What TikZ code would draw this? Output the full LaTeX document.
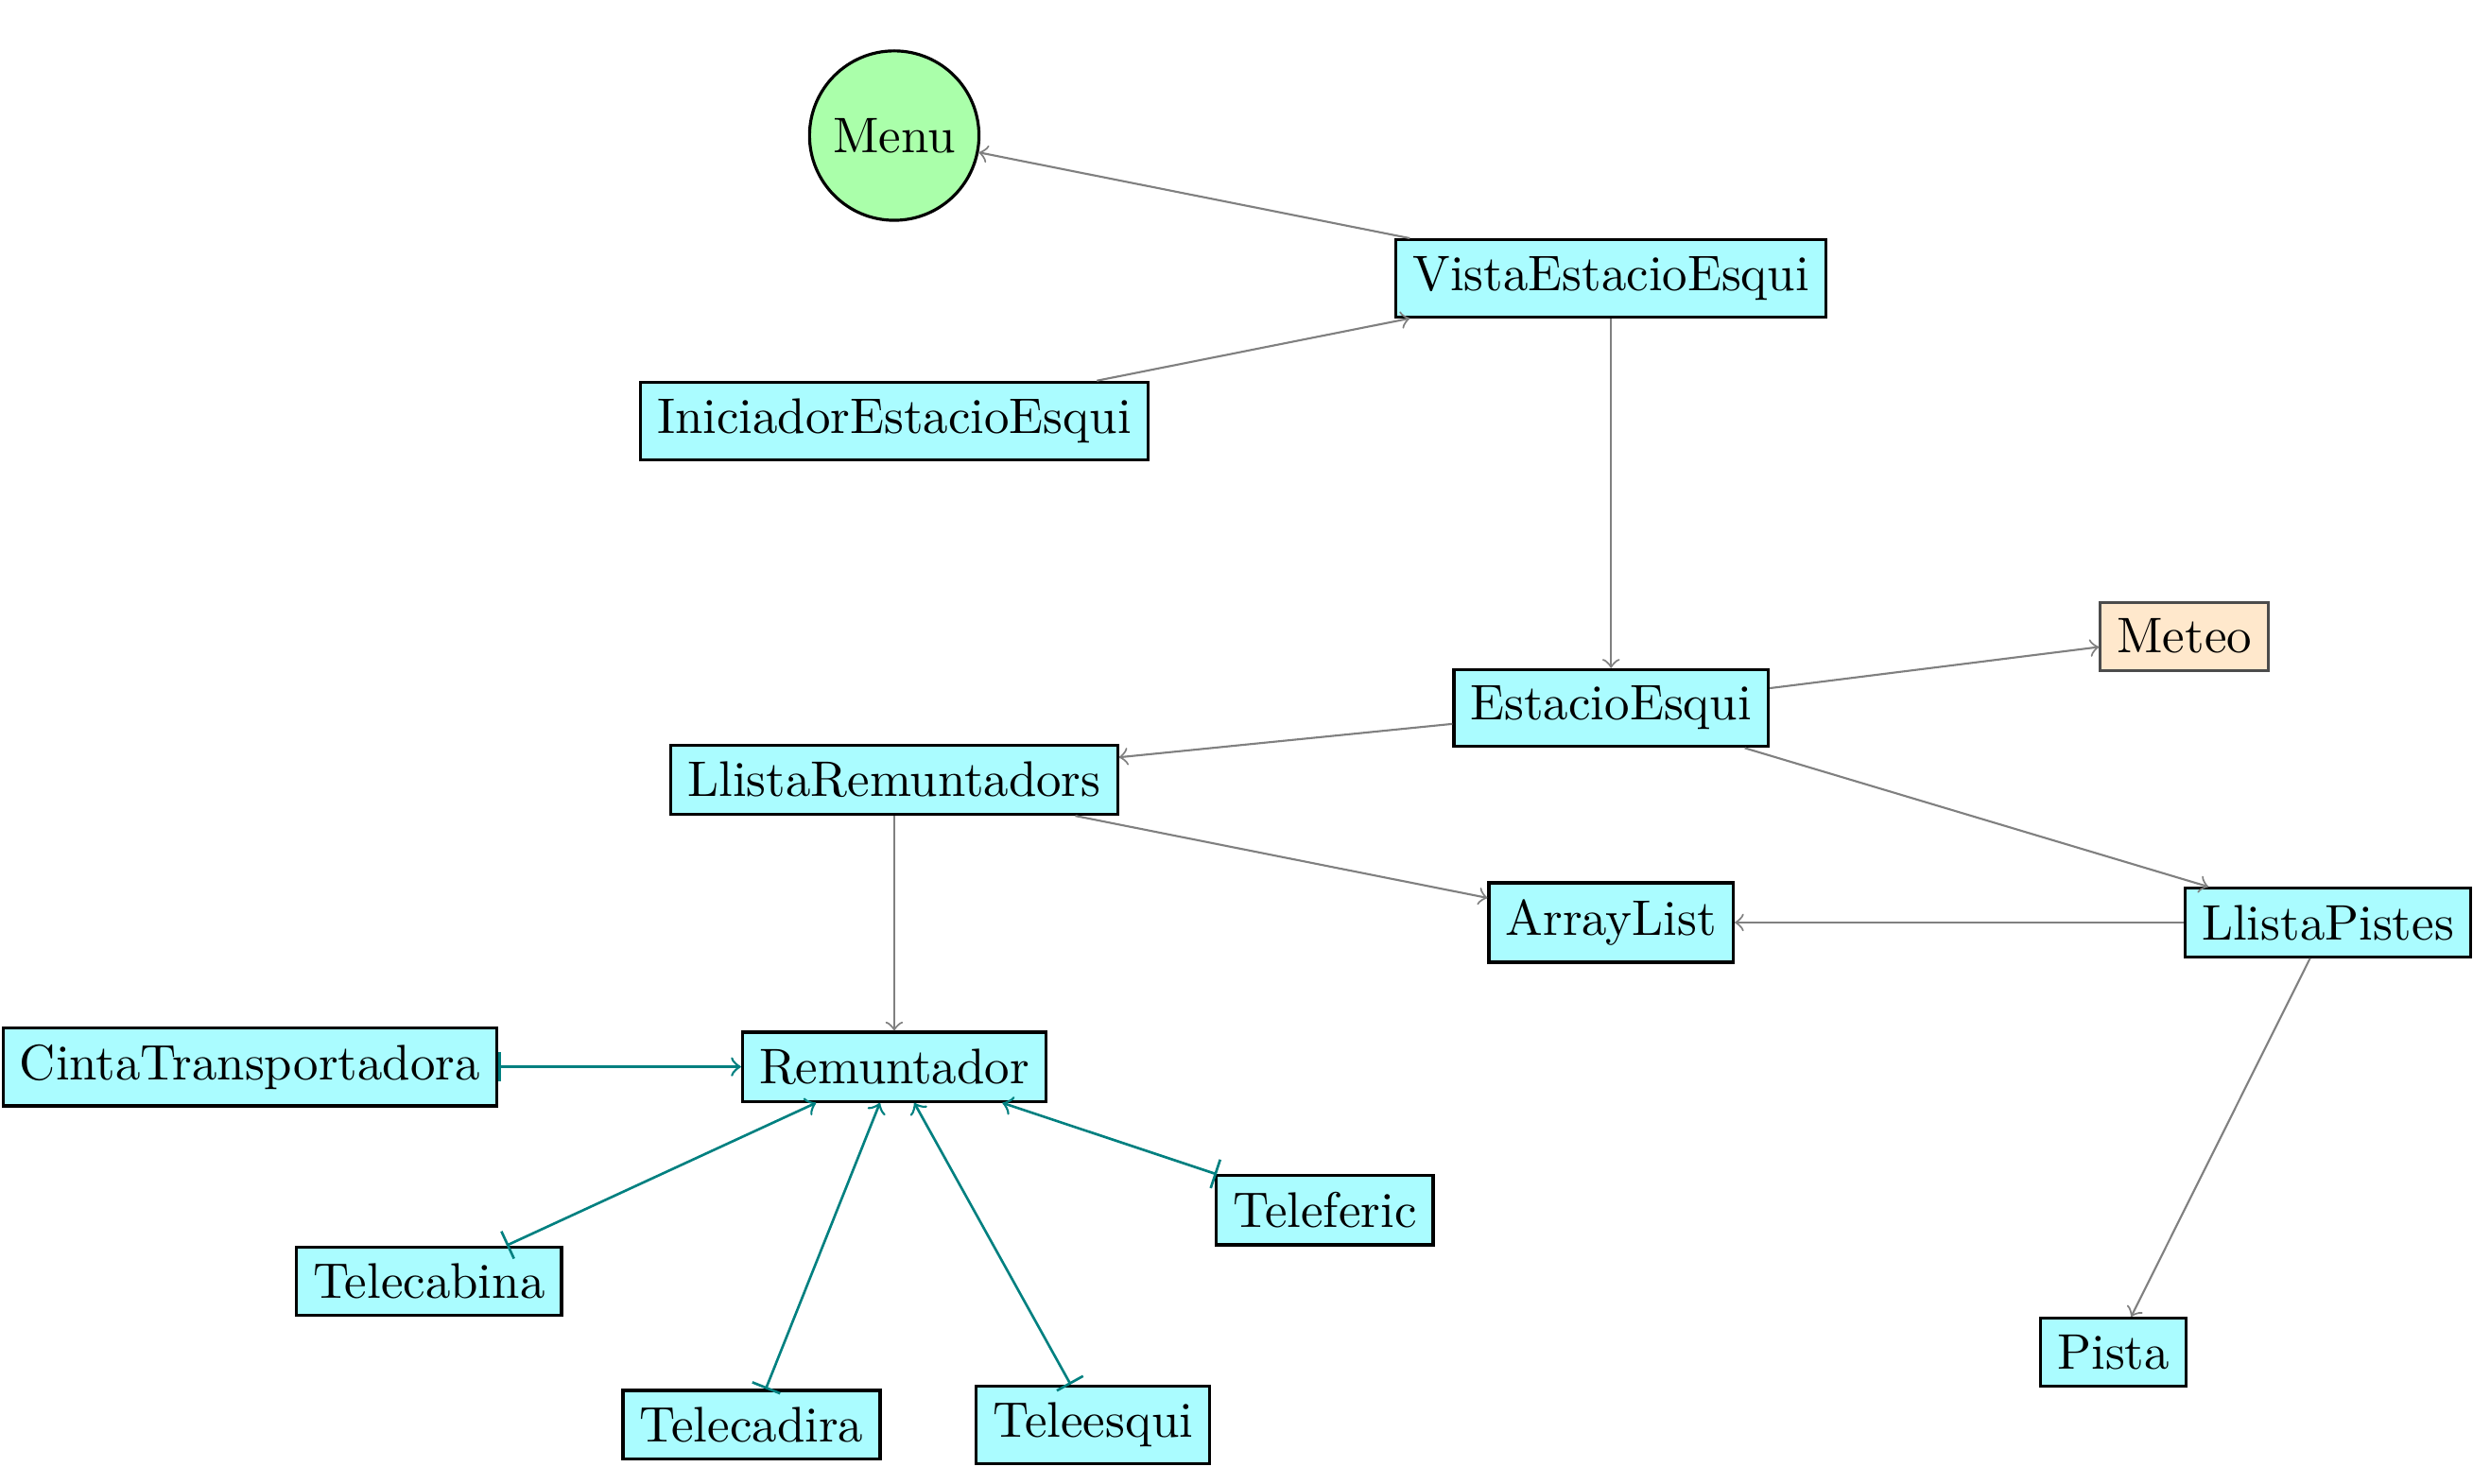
\documentclass[tikz,border=0pt]{standalone}
\usetikzlibrary{arrows}
\definecolor{clsfill}{RGB}{170,252,255}
\definecolor{menufill}{RGB}{170,255,170}
\definecolor{extfill}{RGB}{255,232,204}
\definecolor{inhcol}{RGB}{0,128,128}
\begin{document}
\begin{tikzpicture}[x=0.3155pt,y=-0.3155pt,
  cls/.style={draw=black,fill=clsfill,line width=0.6pt},
  ext/.style={draw=black!70,fill=extfill,line width=0.6pt},
  menu/.style={circle,draw=black,fill=menufill,line width=0.6pt},
  dep/.style={->,draw=gray,line width=0.4pt},
  inh/.style={|->,draw=inhcol,line width=0.5pt}]
\useasboundingbox (0,0) rectangle (1568,940.5);
\node[menu] (menu) at (567,86) {Menu};
\node[cls] (vista) at (1021.5,176.5) {VistaEstacioEsqui};
\node[cls] (inic) at (567,267) {IniciadorEstacioEsqui};
\node[cls] (estacio) at (1021.5,449) {EstacioEsqui};
\node[ext] (meteo) at (1385,403.5) {Meteo};
\node[cls] (llrem) at (567,494.5) {LlistaRemuntadors};
\node[cls] (array) at (1021.5,585) {ArrayList};
\node[cls] (llpis) at (1476,585) {LlistaPistes};
\node[cls] (rem) at (567,676.5) {Remuntador};
\node[cls] (cinta) at (158.5,676.5) {CintaTransportadora};
\node[cls] (telef) at (840,767.5) {Teleferic};
\node[cls] (telecab) at (272,812.5) {Telecabina};
\node[cls] (telecad) at (476.5,903.5) {Telecadira};
\node[cls] (telees) at (693,903.5) {Teleesqui};
\node[cls] (pista) at (1340,857.5) {Pista};
\draw[dep] (vista) -- (menu);
\draw[dep] (inic) -- (vista);
\draw[dep] (vista) -- (estacio);
\draw[dep] (estacio) -- (meteo);
\draw[dep] (estacio) -- (llrem);
\draw[dep] (estacio) -- (llpis);
\draw[dep] (llrem) -- (array);
\draw[dep] (llpis) -- (array);
\draw[dep] (llrem) -- (rem);
\draw[dep] (llpis) -- (pista);
\draw[inh] (cinta) -- (rem);
\draw[inh] (telecab) -- (rem);
\draw[inh] (telecad) -- (rem);
\draw[inh] (telees) -- (rem);
\draw[inh] (telef) -- (rem);
\end{tikzpicture}
\end{document}
